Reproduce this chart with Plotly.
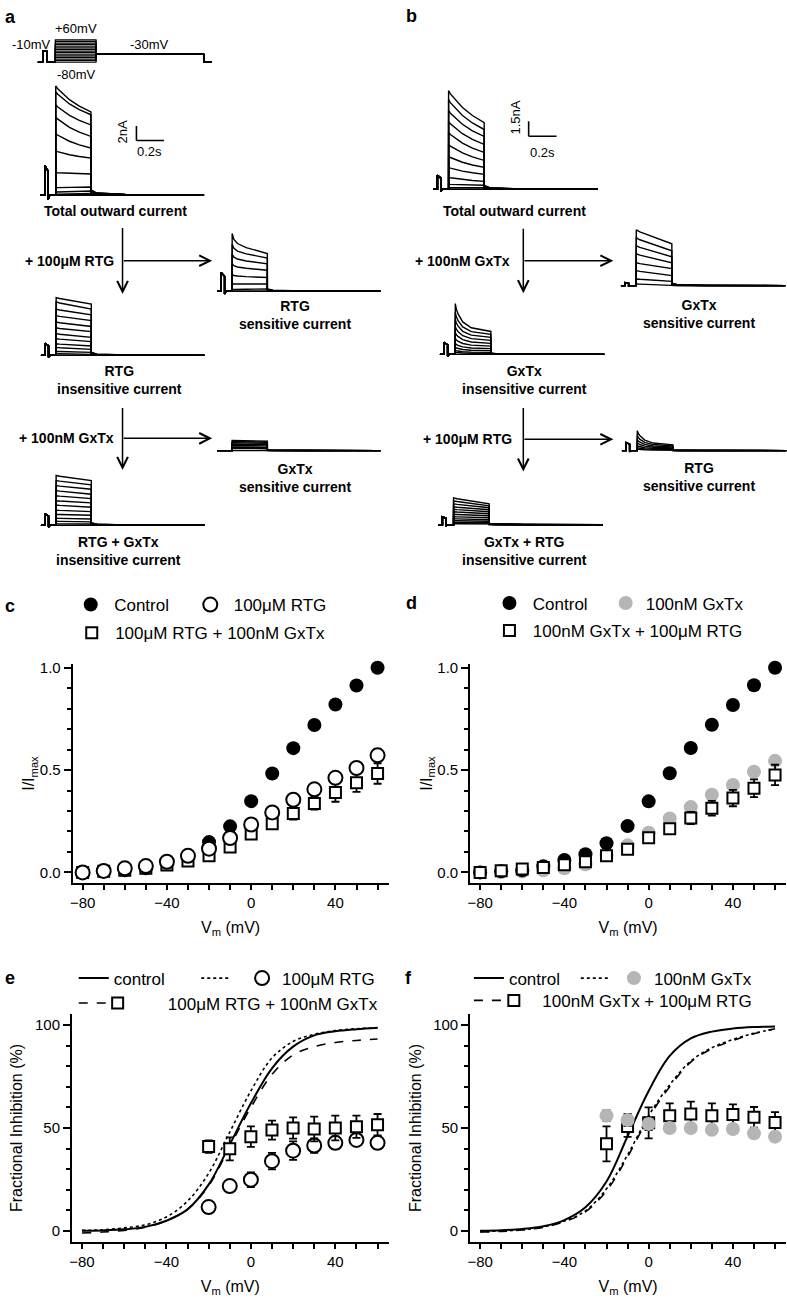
import plotly.graph_objects as go

W, H = 787, 1300
FONT = "Liberation Sans, Arial, Helvetica, sans-serif"

# ------------------------------------------------------------------ data
# I-V relations (panels c, d)
vm = [-80, -70, -60, -50, -40, -30, -20, -10, 0, 10, 20, 30, 40, 50, 60]
c_control = [0.0, 0.005, 0.01, 0.02, 0.05, 0.084, 0.148, 0.225, 0.348, 0.483, 0.607, 0.72, 0.82, 0.913, 1.0]
c_rtg = [0.0, 0.007, 0.02, 0.031, 0.052, 0.081, 0.116, 0.168, 0.234, 0.293, 0.355, 0.406, 0.462, 0.51, 0.572]
c_rtg_err = [0.005, 0.005, 0.005, 0.005, 0.008, 0.01, 0.01, 0.012, 0.015, 0.015, 0.02, 0.02, 0.025, 0.025, 0.03]
c_rtg_gx = [0.0, 0.005, 0.01, 0.02, 0.036, 0.055, 0.081, 0.124, 0.188, 0.237, 0.288, 0.337, 0.39, 0.438, 0.483]
c_rtg_gx_err = [0.003, 0.003, 0.005, 0.005, 0.008, 0.01, 0.01, 0.015, 0.02, 0.025, 0.03, 0.03, 0.045, 0.045, 0.05]

d_control = [0.0, 0.005, 0.01, 0.03, 0.061, 0.089, 0.142, 0.226, 0.347, 0.484, 0.608, 0.721, 0.818, 0.914, 1.0]
d_gx = [0.0, 0.002, 0.004, 0.01, 0.02, 0.04, 0.085, 0.132, 0.194, 0.263, 0.319, 0.379, 0.427, 0.492, 0.545]
d_gx_rtg = [0.0, 0.008, 0.016, 0.024, 0.037, 0.052, 0.081, 0.113, 0.169, 0.213, 0.266, 0.313, 0.363, 0.411, 0.476]
d_gx_rtg_err = [0.003, 0.004, 0.005, 0.006, 0.008, 0.01, 0.012, 0.015, 0.018, 0.022, 0.03, 0.036, 0.04, 0.043, 0.05]

# Fractional inhibition (panels e, f)
vm_inh = [-20, -10, 0, 10, 20, 30, 40, 50, 60]
e_rtg = [11.6, 21.8, 24.9, 33.9, 39.0, 41.5, 42.8, 44.2, 42.8]
e_rtg_err = [2.5, 1.5, 3.6, 4.0, 4.5, 3.5, 3.0, 2.5, 3.0]
e_rtg_gx = [41.0, 39.9, 45.8, 49.0, 50.0, 49.5, 50.0, 50.6, 51.6]
e_rtg_gx_err = [3.0, 5.6, 5.0, 4.6, 5.2, 6.0, 6.0, 5.4, 5.2]
f_gx = [56.0, 53.9, 52.0, 50.0, 50.0, 49.1, 49.5, 47.4, 45.8]
f_gx_err = [2.5, 3.0, 3.0, 2.0, 2.0, 2.0, 2.0, 2.0, 2.0]
f_gx_rtg = [42.3, 50.7, 52.5, 56.0, 56.8, 56.0, 56.5, 55.2, 52.7]
f_gx_rtg_err = [8.5, 5.0, 7.5, 6.0, 6.0, 6.0, 5.0, 5.0, 5.0]

# Boltzmann fit curves (read at 10 mV intervals)
e_fit_control = [0.1, 0.3, 0.8, 2.0, 5.0, 10.5, 22.5, 42.0, 62.0, 79.0, 89.5, 95.0, 97.0, 98.0, 98.7]
e_fit_rtg = [0.3, 0.6, 1.5, 3.0, 6.8, 14.5, 28.0, 48.0, 68.0, 84.0, 92.0, 95.5, 97.3, 98.2, 98.7]
e_fit_rtg_gx = [-1.0, -0.5, 0.3, 1.8, 5.0, 10.5, 22.0, 41.0, 60.0, 76.0, 85.5, 89.5, 91.5, 92.5, 93.2]
f_fit_control = [0.15, 0.4, 1.0, 2.3, 5.3, 11.5, 24.0, 46.0, 68.0, 85.0, 93.5, 96.8, 98.3, 99.0, 99.3]
f_fit_gx = [-0.3, 0.0, 0.6, 2.0, 4.8, 9.8, 20.5, 37.0, 56.0, 71.0, 82.5, 89.0, 93.0, 96.0, 98.0]
f_fit_gx_rtg = [-0.5, -0.2, 0.5, 1.8, 4.5, 9.3, 19.5, 36.0, 55.0, 70.0, 82.0, 88.5, 92.5, 95.8, 98.2]

# Voltage protocol (mV, s)
step_mV = [-80, -70, -60, -50, -40, -30, -20, -10, 0, 10, 20, 30, 40, 50, 60]
hold_mV, pre_mV, tail_mV = -80, -10, -30
prot_t = [0.0, 0.03, 0.055, 0.11, 0.365, 1.04, 1.09]

# Current traces: timing (s) and per-sweep peak / end-of-step amplitudes (nA)
T_PRE_ON, T_PRE_OFF, T_ON, T_OFF, T_END = 0.03, 0.055, 0.11, 0.365, 1.185

a_total_peak = [15.1, 14.3, 12.5, 10.8, 8.5, 6.1, 3.1, 1.0, 0.4, 0.1, 0, 0, 0, 0, 0]
a_total_end = [11.5, 11.1, 9.7, 8.1, 6.5, 5.1, 2.9, 1.1, 0.55, 0.2, 0, 0, 0, 0, 0]
a_rtg_sens_peak = [8.0, 6.5, 5.1, 3.8, 2.3, 1.0, 0.2, 0, 0]
a_rtg_sens_end = [5.2, 4.6, 3.8, 2.9, 1.9, 1.0, 0.3, 0, 0]
a_rtg_ins_peak = [8.0, 7.4, 6.4, 5.5, 4.6, 3.8, 3.0, 2.3, 1.6, 1.1, 0.55, 0.23, 0, 0]
a_rtg_ins_end = [7.1, 6.4, 5.6, 4.8, 4.0, 3.3, 2.5, 1.9, 1.3, 0.83, 0.41, 0.14, 0, 0]
a_gx_sens_peak = [1.4, 1.25, 1.1, 0.9, 0.7, 0.5, 0.3, 0.1]
a_gx_sens_end = [1.3, 1.15, 1.0, 0.85, 0.65, 0.45, 0.25, 0.1]
a_both_ins_peak = [6.9, 6.2, 5.5, 4.8, 4.1, 3.4, 2.8, 2.1, 1.5, 0.97, 0.55, 0.2, 0]
a_both_ins_end = [6.2, 5.6, 5.0, 4.3, 3.7, 3.1, 2.5, 1.9, 1.4, 0.87, 0.48, 0.18, 0]

b_total_peak = [9.9, 9.0, 7.9, 6.8, 5.7, 4.5, 3.3, 2.2, 1.2, 0.5, 0.17, 0, 0]
b_total_end = [6.7, 6.0, 5.3, 4.5, 3.7, 2.9, 2.2, 1.5, 0.8, 0.4, 0.17, 0, 0]
b_gx_sens_peak = [5.6, 4.8, 4.0, 3.2, 2.3, 1.5, 0.67, 0.17]
b_gx_sens_end = [4.2, 3.5, 2.9, 2.3, 1.7, 1.0, 0.43, 0.07]
b_gx_ins_peak = [5.1, 4.2, 3.5, 2.8, 2.2, 1.6, 1.1, 0.7, 0.4, 0.2, 0]
b_gx_ins_end = [2.3, 2.0, 1.7, 1.4, 1.1, 0.83, 0.57, 0.37, 0.2, 0.1, 0]
b_rtg_sens_peak = [2.0, 1.5, 1.1, 0.8, 0.5, 0.3, 0.15]
b_rtg_sens_end = [0.57, 0.47, 0.37, 0.27, 0.18, 0.1, 0.04]
b_both_ins_peak = [2.7, 2.4, 2.1, 1.8, 1.55, 1.3, 1.05, 0.8, 0.6, 0.4, 0.23, 0.1]
b_both_ins_end = [2.1, 1.9, 1.7, 1.5, 1.3, 1.1, 0.9, 0.7, 0.5, 0.35, 0.2, 0.08]

# prepulse response amplitude (nA) per recording
bump_nA = {"a_total": 4.1, "a_rtg_sens": 2.6, "a_rtg_ins": 1.65, "a_gx_sens": 0.0, "a_both_ins": 1.6,
           "b_total": 1.4, "b_gx_sens": 0.3, "b_gx_ins": 1.2, "b_rtg_sens": 0.8, "b_both_ins": 0.8}

# inactivation time-course shapes (fraction of step, fraction of peak-end remaining)
prof_total = ([0, 0.05, 0.16, 0.39, 0.67, 1.0], [1, 0.9, 0.76, 0.47, 0.22, 0])
prof_slow = ([0, 0.1, 0.5, 1.0], [1, 0.85, 0.45, 0])
prof_fast = ([0, 0.03, 0.075, 0.21, 0.45, 1.0], [1, 0.8, 0.64, 0.34, 0.13, 0])
prof_rs = ([0, 0.05, 0.15, 0.4, 1.0], [1, 0.7, 0.5, 0.3, 0])

# scale bars
sb_a_nA, sb_b_nA, sb_s = 2.0, 1.5, 0.2

# ------------------------------------------------------------------ helpers
def xp(px):
    return px / W


def yp(py):
    return 1 - py / H


def sweep_xy(peak, end, bump, prof, tail=0.06):
    pt, pf = prof
    t = [0.0, T_PRE_ON, T_PRE_ON, T_PRE_OFF, T_PRE_OFF, T_PRE_OFF + 0.012, T_ON]
    y = [0.0, 0.0, bump, bump * 0.8, -0.15 * bump, 0.0, 0.0]
    for ft, ff in zip(pt, pf):
        t.append(T_ON + ft * (T_OFF - T_ON))
        y.append(end + (peak - end) * ff)
    t += [T_OFF, T_OFF + 0.04, T_OFF + 0.25, T_END]
    y += [end * tail, end * tail * 0.4, end * tail * 0.1, 0.0]
    return t, y


fig = go.Figure()
layout = dict(width=W, height=H, margin=dict(l=0, r=0, t=0, b=0), autosize=False,
              paper_bgcolor="white", plot_bgcolor="white", showlegend=True,
              font=dict(family=FONT, color="black"))

# ------------------------------------------------------------------ trace panels (a, b)
groups = [
    # key, axis n, peaks, ends, profile, x0 px, baseline px, px/s, px/nA
    ("a_total", 6, a_total_peak, a_total_end, prof_total, 37.7, 190.7, 138.5, 7.25),
    ("a_rtg_sens", 7, a_rtg_sens_peak, a_rtg_sens_end, prof_rs, 214.8, 287.3, 138.5, 7.25),
    ("a_rtg_ins", 8, a_rtg_ins_peak, a_rtg_ins_end, prof_slow, 38.1, 351.7, 138.5, 7.25),
    ("a_gx_sens", 9, a_gx_sens_peak, a_gx_sens_end, prof_slow, 214.8, 447.3, 138.5, 7.25),
    ("a_both_ins", 10, a_both_ins_peak, a_both_ins_end, prof_slow, 38.1, 522.3, 138.5, 7.25),
    ("b_total", 11, b_total_peak, b_total_end, prof_total, 431.9, 185.0, 140.0, 10.0),
    ("b_gx_sens", 12, b_gx_sens_peak, b_gx_sens_end, prof_slow, 620.3, 281.7, 140.0, 10.0),
    ("b_gx_ins", 13, b_gx_ins_peak, b_gx_ins_end, prof_fast, 438.6, 350.7, 140.0, 10.0),
    ("b_rtg_sens", 14, b_rtg_sens_peak, b_rtg_sens_end, prof_fast, 621.3, 447.3, 140.0, 10.0),
    ("b_both_ins", 15, b_both_ins_peak, b_both_ins_end, prof_slow, 436.9, 521.7, 140.0, 10.0),
]

for key, n, peaks, ends, prof, x0, y0, sx, sy in groups:
    xs, ys = [], []
    for p, e in zip(peaks, ends):
        t, y = sweep_xy(p, e, bump_nA[key], prof)
        xs += t + [None]
        ys += y + [None]
    fig.add_trace(go.Scatter(x=xs, y=ys, mode="lines", line=dict(color="black", width=1.4),
                             xaxis=f"x{n}", yaxis=f"y{n}", showlegend=False, hoverinfo="skip"))
    layout[f"xaxis{n}"] = dict(domain=[xp(x0 - 5), xp(min(x0 + 165, W))],
                               range=[-5 / sx, (min(x0 + 165, W) - x0) / sx],
                               visible=False, anchor=f"y{n}", fixedrange=True)
    layout[f"yaxis{n}"] = dict(domain=[yp(y0 + 8), yp(y0 - 125)], range=[-8 / sy, 125 / sy],
                               visible=False, anchor=f"x{n}", fixedrange=True)

# voltage protocol
px_, pv_ = [], []
for V in step_mV:
    T = prot_t
    px_ += [T[0], T[1], T[1], T[2], T[2], T[3], T[3], T[4], T[4], T[5], T[5], T[6], None]
    pv_ += [hold_mV, hold_mV, pre_mV, pre_mV, hold_mV, hold_mV, V, V, tail_mV, tail_mV, hold_mV, hold_mV, None]
fig.add_trace(go.Scatter(x=px_, y=pv_, mode="lines", line=dict(color="black", width=1.2),
                         xaxis="x5", yaxis="y5", showlegend=False, hoverinfo="skip"))
p_x0, p_sx, p_y80, p_sv = 35.0, 160.0, 57.5, 0.161
layout["xaxis5"] = dict(domain=[xp(30), xp(215)], range=[(30 - p_x0) / p_sx, (215 - p_x0) / p_sx],
                        visible=False, anchor="y5", fixedrange=True)
layout["yaxis5"] = dict(domain=[yp(62), yp(30)],
                        range=[-80 - (62 - p_y80) / p_sv, -80 + (p_y80 - 30) / p_sv],
                        visible=False, anchor="x5", fixedrange=True)

# scale bars
shapes = []
for (xa, ya, t0, i0, amp) in [("x6", "y6", 0.695, 7.54, sb_a_nA), ("x11", "y11", 0.684, 5.33, sb_b_nA)]:
    shapes.append(dict(type="line", xref=xa, yref=ya, x0=t0, x1=t0, y0=i0, y1=i0 + amp,
                       line=dict(color="black", width=1.6)))
    shapes.append(dict(type="line", xref=xa, yref=ya, x0=t0, x1=t0 + sb_s, y0=i0, y1=i0,
                       line=dict(color="black", width=1.6)))

# ------------------------------------------------------------------ data panels (c-f)
axis_common = dict(showline=True, linewidth=2, linecolor="black", ticks="outside", tickwidth=2,
                   tickcolor="black", showgrid=False, zeroline=False, fixedrange=True,
                   tickfont=dict(size=15, color="black", family=FONT))


def xaxis_def(dom, anchor):
    d = dict(axis_common)
    d.update(domain=dom, range=[-84.7, 65.2], tick0=-80, dtick=40, ticklen=5, anchor=anchor,
             minor=dict(dtick=10, tick0=-80, ticklen=5, tickwidth=2, tickcolor="black", ticks="outside"),
             title=dict(text="V<sub>m</sub> (mV)", font=dict(size=16, family=FONT, color="black"), standoff=12))
    return d


def yaxis_def(dom, rng, dtick, mdtick, fmt, title, anchor, standoff):
    d = dict(axis_common)
    d.update(domain=dom, range=rng, tick0=0, dtick=dtick, ticklen=7, tickformat=fmt, anchor=anchor,
             minor=dict(dtick=mdtick, tick0=0, ticklen=4, tickwidth=2, tickcolor="black", ticks="outside"),
             title=dict(text=title, font=dict(size=16, family=FONT, color="black"), standoff=standoff))
    return d


layout["xaxis"] = xaxis_def([xp(70), xp(387)], "y")
layout["yaxis"] = yaxis_def([yp(881), yp(662)], [-0.05, 1.016], 0.5, 0.1, ".1f", "I/I<sub>max</sub>", "x", 1)
layout["xaxis2"] = xaxis_def([xp(469), xp(786)], "y2")
layout["yaxis2"] = yaxis_def([yp(881), yp(662)], [-0.05, 1.016], 0.5, 0.1, ".1f", "I/I<sub>max</sub>", "x2", 1)
layout["xaxis3"] = xaxis_def([xp(69.3), xp(387)], "y3")
layout["yaxis3"] = yaxis_def([yp(1241.7), yp(1013)], [-5.3, 105.3], 50, 10, "d", "Fractional Inhibition (%)", "x3", 8)
layout["xaxis4"] = xaxis_def([xp(469), xp(786)], "y4")
layout["yaxis4"] = yaxis_def([yp(1241.7), yp(1013)], [-5.3, 105.3], 50, 10, "d", "Fractional Inhibition (%)", "x4", 8)

BLACK, GRAY = "black", "#b5b5b5"
filled = dict(symbol="circle", size=14, color=BLACK, line=dict(width=0))
gray_m = dict(symbol="circle", size=14, color=GRAY, line=dict(width=0))
open_c = dict(symbol="circle", size=14, color="white", line=dict(width=2, color=BLACK))
open_s = dict(symbol="square", size=11, color="white", line=dict(width=2, color=BLACK))


def err(arr):
    return dict(type="data", array=arr, color=BLACK, thickness=1.8, width=4)


def pts(x, y, marker, name, ax, leg, e=None):
    return go.Scatter(x=x, y=y, mode="markers", marker=marker, name=name, xaxis=ax[0], yaxis=ax[1],
                      legend=leg, error_y=err(e) if e else None, cliponaxis=False, hoverinfo="skip")


def curve(x, y, dash, width, name, ax, leg):
    return go.Scatter(x=x, y=y, mode="lines", line=dict(color=BLACK, width=width, dash=dash, shape="spline"),
                      name=name, xaxis=ax[0], yaxis=ax[1], legend=leg, hoverinfo="skip")


# c
fig.add_trace(pts(vm, c_control, filled, "\u2009Control", ("x", "y"), "legend"))
fig.add_trace(pts(vm, c_rtg_gx, open_s, "\u2009100\u03bcM RTG + 100nM GxTx", ("x", "y"), "legend3", c_rtg_gx_err))
fig.add_trace(pts(vm, c_rtg, open_c, "\u2009100\u03bcM RTG", ("x", "y"), "legend2", c_rtg_err))
# d
fig.add_trace(pts(vm, d_gx, gray_m, "100nM GxTx", ("x2", "y2"), "legend5"))
fig.add_trace(pts(vm, d_control, filled, "\u2009Control", ("x2", "y2"), "legend4"))
fig.add_trace(pts(vm, d_gx_rtg, open_s, "\u2009100nM GxTx + 100\u03bcM RTG", ("x2", "y2"), "legend6", d_gx_rtg_err))
# e
fig.add_trace(curve(vm, e_fit_control, "solid", 2, "control", ("x3", "y3"), "legend7"))
fig.add_trace(curve(vm, e_fit_rtg, "dot", 1.6, "", ("x3", "y3"), "legend8"))
fig.add_trace(curve(vm, e_fit_rtg_gx, "dash", 1.6, "", ("x3", "y3"), "legend10"))
fig.add_trace(pts(vm_inh, e_rtg, open_c, "100\u03bcM RTG", ("x3", "y3"), "legend9", e_rtg_err))
fig.add_trace(pts(vm_inh, e_rtg_gx, open_s, "\u2002\u2002 \u2002100\u03bcM RTG + 100nM GxTx", ("x3", "y3"), "legend11", e_rtg_gx_err))
# f
fig.add_trace(curve(vm, f_fit_control, "solid", 2, "control", ("x4", "y4"), "legend12"))
fig.add_trace(curve(vm, f_fit_gx, "dot", 1.6, "", ("x4", "y4"), "legend13"))
fig.add_trace(curve(vm, f_fit_gx_rtg, "dash", 1.6, "", ("x4", "y4"), "legend15"))
fig.add_trace(pts(vm_inh, f_gx_rtg, open_s, "\u2002100nM GxTx + 100\u03bcM RTG", ("x4", "y4"), "legend16", f_gx_rtg_err))
fig.add_trace(pts(vm_inh, f_gx, gray_m, "100nM GxTx", ("x4", "y4"), "legend14", f_gx_err))

leg_pos = {
    "legend": (68, 602.3), "legend2": (188, 602.3), "legend3": (69, 630.7),
    "legend4": (488.3, 600.7), "legend5": (605, 600.7), "legend6": (488.3, 628.3),
    "legend7": (71, 977.3), "legend8": (194, 977.3), "legend9": (240, 977.3),
    "legend10": (71, 1002.3), "legend11": (95, 1002.3),
    "legend12": (467.7, 977.3), "legend13": (575, 977.3), "legend14": (613.3, 977.3),
    "legend15": (467.7, 999.7), "legend16": (492.7, 999.7),
}
for k, (lx, ly) in leg_pos.items():
    layout[k] = dict(x=xp(lx), y=yp(ly), xanchor="left", yanchor="middle", orientation="h",
                     bgcolor="rgba(0,0,0,0)", borderwidth=0, itemclick=False, itemdoubleclick=False,
                     font=dict(size=17, family=FONT, color="black"), itemwidth=30)

# ------------------------------------------------------------------ annotations
anns = []


def text(s, x, y, size=14, bold=True, xanchor="center", angle=0):
    anns.append(dict(text=f"<b>{s}</b>" if bold else s, x=xp(x), y=yp(y), xref="paper", yref="paper",
                     showarrow=False, xanchor=xanchor, yanchor="middle", textangle=angle,
                     font=dict(size=size, family=FONT, color="black")))


def arrow(x0, y0, x1, y1):
    anns.append(dict(text="", x=xp(x1), y=yp(y1), xref="paper", yref="paper", ax=x0 - x1, ay=y0 - y1,
                     showarrow=True, arrowhead=5, arrowsize=1.4, arrowwidth=1.5, arrowcolor="black"))


# panel letters
for s, x, y in [("a", 7.5, 12.5), ("b", 410, 11), ("c", 7.5, 603), ("d", 410, 600), ("e", 7.5, 977), ("f", 407.5, 977)]:
    text(s, x, y, size=18)

# protocol labels
text("+60mV", 72.8, 23.3, 13, False)
text("-10mV", 29, 40, 13, False)
text("-30mV", 147.5, 40, 13, False)
text("-80mV", 74, 70, 13, False)
# scale bar labels
text("2nA", 119, 127.5, 13, False, angle=-90)
text("0.2s", 147.5, 146.7, 13, False)
text("1.5nA", 515, 113, 13, False, angle=-90)
text("0.2s", 541.7, 148, 13, False)

# panel a labels
text("Total outward current", 113, 206.7)
text("+ 100\u03bcM RTG", 113, 256.7, xanchor="right")
text("RTG<br>sensitive current", 293.3, 311)
text("RTG<br>insensitive current", 117, 376.7)
text("+ 100nM GxTx", 113, 435, xanchor="right")
text("GxTx<br>sensitive current", 293.3, 474.7)
text("RTG + GxTx<br>insensitive current", 116, 548.3)
# panel b labels
text("Total outward current", 513.3, 206.7)
text("+ 100nM GxTx", 510.7, 256.7, xanchor="right")
text("GxTx<br>sensitive current", 698.3, 310)
text("GxTx<br>insensitive current", 523.3, 376.7)
text("+ 100\u03bcM RTG", 512.7, 436, xanchor="right")
text("RTG<br>sensitive current", 698.3, 473.8)
text("GxTx + RTG<br>insensitive current", 523, 548.3)

# arrows
arrow(120, 222.7, 120, 290)
arrow(120, 256.7, 210, 256.7)
arrow(120, 403.3, 120, 466.7)
arrow(120, 435, 210, 435)
arrow(522.3, 223.3, 522.3, 289.3)
arrow(522.3, 256.7, 612.7, 256.7)
arrow(522.3, 403.3, 522.3, 468.3)
arrow(522.3, 436, 612.7, 436)

layout["annotations"] = anns
layout["shapes"] = shapes
fig.update_layout(**layout)

fig.write_html("out.html", config={"displayModeBar": False},
               post_script="document.body.style.margin='0';")
